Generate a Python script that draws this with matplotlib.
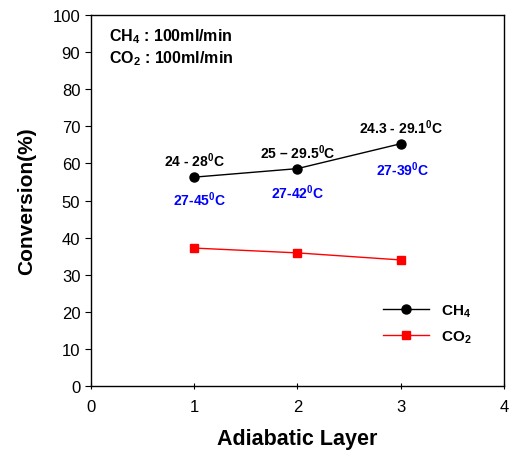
import matplotlib
matplotlib.use("Agg")
import matplotlib.pyplot as plt

plt.rcParams['font.family'] = ['Liberation Sans', 'DejaVu Sans']
plt.rcParams['mathtext.fontset'] = 'custom'
plt.rcParams['mathtext.rm'] = 'Liberation Sans'
plt.rcParams['mathtext.bf'] = 'Liberation Sans:bold'

layers = [1, 2, 3]
ch4 = [56.3, 58.6, 65.3]
co2 = [37.2, 35.9, 34.0]
ch4_labels = [r'24 - 28$^{\mathbf{0}}$C', r'25 – 29.5$^{\mathbf{0}}$C', r'24.3 - 29.1$^{\mathbf{0}}$C']
co2_labels = [r'27-45$^{\mathbf{0}}$C', r'27-42$^{\mathbf{0}}$C', r'27-39$^{\mathbf{0}}$C']
ch4_label_y = [61.0, 63.2, 69.8]
co2_label_y = [50.6, 52.3, 58.5]
co2_label_x = [1.05, 2.0, 3.02]

fig = plt.figure(figsize=(5.1, 4.56), dpi=100)
ax = fig.add_axes([0.178, 0.151, 0.81, 0.814])

ax.plot(layers, ch4, color='black', lw=1, marker='o', ms=6.5, label=r'CH$_\mathbf{4}$')
ax.plot(layers, co2, color='red', lw=1, marker='s', ms=6, label=r'CO$_\mathbf{2}$')

for x, y, t in zip(layers, ch4_label_y, ch4_labels):
    ax.text(x, y, t, ha='center', va='center', fontsize=10, fontweight='bold', color='black')
for x, y, t in zip(co2_label_x, co2_label_y, co2_labels):
    ax.text(x, y, t, ha='center', va='center', fontsize=10, fontweight='bold', color='blue')

ax.text(0.18, 94.5, r'CH$_\mathbf{4}$ : 100ml/min', fontsize=11.5, fontweight='bold', va='center')
ax.text(0.18, 88.6, r'CO$_\mathbf{2}$ : 100ml/min', fontsize=11.5, fontweight='bold', va='center')

ax.set_xlim(0, 4)
ax.set_ylim(0, 100)
ax.set_xticks([0, 1, 2, 3, 4])
ax.set_yticks(range(0, 101, 10))
ax.tick_params(axis='x', direction='inout', length=5, labelsize=12, pad=7)
ax.tick_params(axis='y', direction='out', length=4, labelsize=12)
ax.set_xlabel('Adiabatic Layer', fontsize=15.5, fontweight='bold', labelpad=10)
ax.set_ylabel('Conversion(%)', fontsize=15, fontweight='bold', labelpad=12)
for s in ax.spines.values():
    s.set_linewidth(1)

leg = ax.legend(loc='lower right', bbox_to_anchor=(0.955, 0.075), frameon=False,
                prop={'weight': 'bold', 'size': 11}, handlelength=3, labelspacing=0.55)

fig.savefig('out.png', dpi=100)
